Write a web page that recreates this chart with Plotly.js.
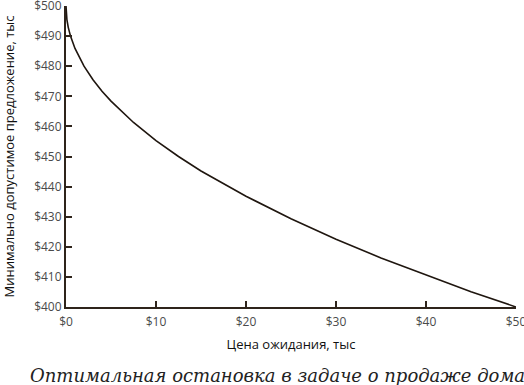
<!DOCTYPE html>
<html><head><meta charset="utf-8">
<script src="https://cdn.plot.ly/plotly-3.0.1.min.js"></script>
<style>html,body{margin:0;padding:0;background:#fff;}#chart{width:524px;height:385px;}</style>
</head><body><div id="chart"></div>
<script>
const waitCost = [0, 0.02, 0.05, 0.1, 0.25, 0.5, 1, 1.5, 2, 3, 4, 5, 7.5, 10, 12.5, 15, 20, 25, 30, 35, 40, 45, 50];
const minOffer = [500, 498, 496.8, 495.5, 492.9, 490, 485.9, 482.7, 480, 475.5, 471.7, 468.4, 461.3, 455.3, 450, 445.2, 436.8, 429.3, 422.5, 416.3, 410.6, 405.1, 400];
const xTicks = [0, 10, 20, 30, 40, 50];
const xTickText = ['$0', '$10', '$20', '$30', '$40', '$50'];
const yTicks = [400, 410, 420, 430, 440, 450, 460, 470, 480, 490, 500];
const yTickText = ['$400', '$410', '$420', '$430', '$440', '$450', '$460', '$470', '$480', '$490', '$500'];
const xTitle = 'Цена ожидания, тыс';
const yTitle = 'Минимально допустимое предложение, тыс';
const caption = 'Оптимальная остановка в задаче о продаже дома';

const axisColor = '#2e241b';
Plotly.newPlot('chart', [{
  x: waitCost, y: minOffer, type: 'scatter', mode: 'lines',
  line: {color: '#1f160f', width: 1.6},
  hoverinfo: 'none', cliponaxis: false
}], {
  width: 524, height: 385,
  margin: {l: 66, r: 8, t: 6, b: 78},
  paper_bgcolor: '#fff', plot_bgcolor: '#fff',
  showlegend: false,
  font: {family: 'Open Sans, sans-serif', size: 12, color: '#444'},
  xaxis: {
    range: [0, 50], tickvals: xTicks, ticktext: xTickText,
    showgrid: false, zeroline: false, showline: true, linecolor: axisColor, linewidth: 2,
    ticks: 'inside', ticklen: 6, tickwidth: 2, tickcolor: axisColor,
    tickfont: {size: 12, color: '#4a4a4a'}, ticklabeloverflow: 'allow', ticklabelstandoff: 3,
    title: {text: xTitle, font: {size: 13, color: '#111'}, standoff: 10}
  },
  yaxis: {
    range: [400, 500], tickvals: yTicks, ticktext: yTickText,
    showgrid: false, zeroline: false, showline: true, linecolor: axisColor, linewidth: 2,
    ticks: 'inside', ticklen: 6, tickwidth: 2, tickcolor: axisColor,
    tickfont: {size: 12, color: '#4a4a4a'}, ticklabeloverflow: 'allow',
    title: {text: yTitle, font: {size: 13, color: '#111'}, standoff: 17}
  },
  annotations: [{
    text: caption, xref: 'paper', yref: 'paper', x: 0.47, y: 0, yshift: -56,
    xanchor: 'center', yanchor: 'top', showarrow: false,
    font: {family: 'DejaVu Serif, serif', size: 18, color: '#222', style: 'italic'}
  }]
}, {staticPlot: true});
</script></body></html>
